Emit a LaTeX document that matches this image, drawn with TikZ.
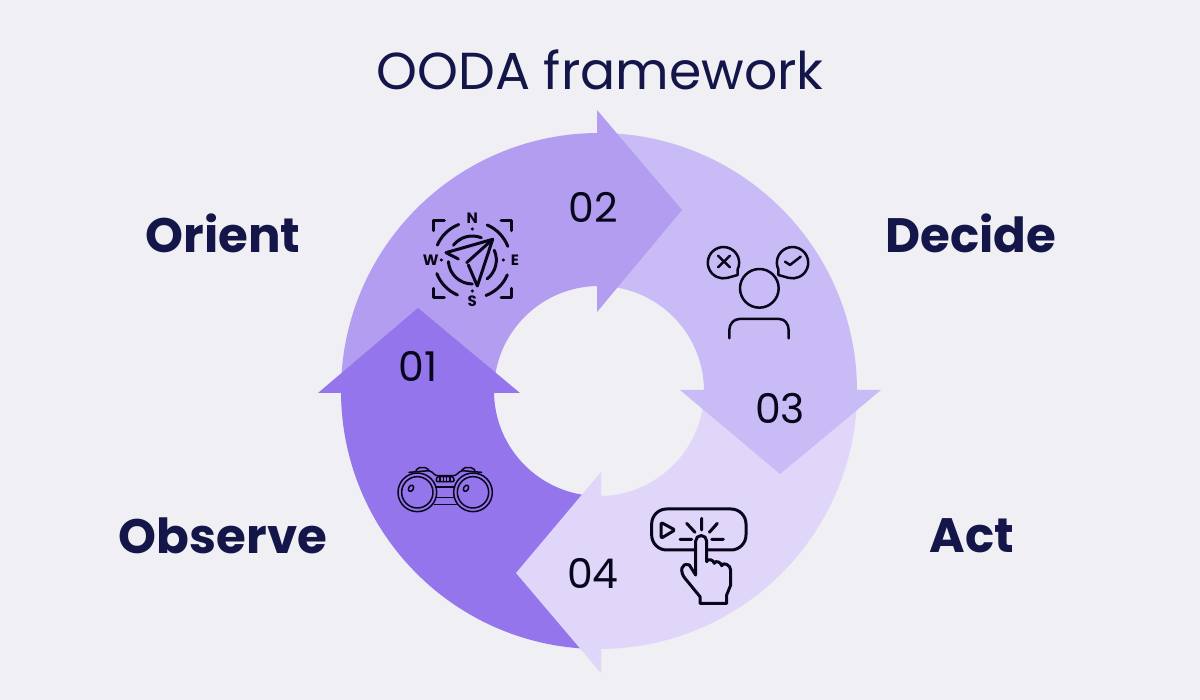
\documentclass[tikz,border=0pt]{standalone}
\usepackage{fontspec}
\setmainfont{Poppins}
\definecolor{bgc}{HTML}{EFEFF4}
\definecolor{navy}{HTML}{14164A}
\definecolor{cobs}{HTML}{9475EC}
\definecolor{cori}{HTML}{B39DF0}
\definecolor{cdec}{HTML}{C9BBF5}
\definecolor{cact}{HTML}{DFD6FA}
\definecolor{ink}{HTML}{08061A}
\newcommand\ringseg[3]{\fill[#1] ([shift={(599,391)}]#2:258) arc[start angle=#2,end angle=#3,radius=258] -- ([shift={(599,391)}]#3:105) arc[start angle=#3,end angle=#2,radius=105] -- cycle;}
\tikzset{
  titletext/.style={text=navy,inner sep=0pt,font=\fontsize{52}{60}\selectfont},
  labeltext/.style={text=navy,inner sep=0pt,font=\fontsize{48.3}{56}\selectfont\bfseries},
  numtext/.style={text=ink,inner sep=0pt,font=\fontsize{41}{48}\selectfont},
  compassletter/.style={text=ink,inner sep=0pt,font=\fontsize{15}{17}\selectfont\bfseries},
  iconheavy/.style={draw=ink,line width=3pt,line cap=round,line join=round},
  iconmid/.style={draw=ink,line width=2.5pt,line cap=round,line join=round},
  iconact/.style={draw=ink,line width=3pt,line cap=round,line join=round},
  iconthin/.style={draw=ink,line width=1.5pt,line cap=round,line join=round},
}
\begin{document}
\begin{tikzpicture}[x=1pt,y=1pt,yscale=-1]
\useasboundingbox (0,0) rectangle (1200,700);
\fill[bgc] (0,0) rectangle (1200,700);
% ring bodies
\ringseg{cori}{180}{270}
\ringseg{cdec}{270}{360}
\ringseg{cact}{0}{90}
\ringseg{cobs}{90}{180}
% heads
\fill[cori] (597,110) -- (682,210) -- (597,312) -- cycle;
\fill[cdec] (680,390) -- (881,390) -- (780,474) -- cycle;
\fill[cact] (601,472) -- (601,673) -- (516,573) -- cycle;
\fill[cobs] (318,393) -- (418,308) -- (520,393) -- cycle;
% text
\node[titletext] (title) at (600,70) {OODA framework};
\node[labeltext] (orient) at (223,233) {Orient};
\node[labeltext] (decide) at (971,233) {Decide};
\node[labeltext] (observe) at (223,536) {Observe};
\node[labeltext] (act) at (972,536) {Act};
\node[numtext] (n1) at (418,366) {01};
\node[numtext] (n2) at (593,207) {02};
\node[numtext] (n3) at (780,408) {03};
\node[numtext] (n4) at (593,573) {04};
% compass icon (coordinates of a 3x crop at 400,190)
\begin{scope}[shift={(400,190)},x=1pt/3,y=1pt/3]
  \begin{scope}[shift={(217,210)}]
    \foreach \a in {0,90,180,270}{
      \draw[iconheavy,rotate=\a] (23:114) arc[start angle=23,end angle=69,radius=114];
      \fill[ink,rotate=\a] (93,0) circle[radius=5];
    }
    \draw[iconheavy] (218:72) arc[start angle=218,end angle=292,radius=72];
    \draw[iconheavy] (-24:72) arc[start angle=-24,end angle=52,radius=72];
    \draw[iconheavy] (90:72) arc[start angle=90,end angle=176,radius=72];
  \end{scope}
  \draw[iconheavy] (100,122) -- (100,92) -- (133,92);
  \draw[iconheavy] (303,92) -- (335,92) -- (335,122);
  \draw[iconheavy] (100,295) -- (100,324) -- (133,324);
  \draw[iconheavy] (303,324) -- (335,324) -- (335,295);
  \draw[iconheavy] (175,207) -- (138,188) -- (278,148) -- (232,288) -- (205,225);
  \draw[iconheavy] (278,148) -- (200,218);
  \node[compassletter] (cn) at (217,85) {N};
  \node[compassletter] (cw) at (92,212) {W};
  \node[compassletter] (ce) at (345,210) {E};
  \node[compassletter] (cs) at (217,335) {S};
\end{scope}
% decide icon
\begin{scope}[shift={(690,230)},x=1pt/3,y=1pt/3]
  \draw[iconmid] (208,175) circle[radius=58];
  \draw[iconmid] (118,325) -- (118,300) to[out=-90,in=180] (148,267) -- (268,267) to[out=0,in=-90] (296,300) -- (296,325);
  \draw[iconmid] (143,118) arc[start angle=25,end angle=-285,radius=47] -- (143,135) -- cycle;
  \draw[iconmid] (84,77) -- (120,112) (120,77) -- (84,112);
  \draw[iconmid] (265,118) arc[start angle=155,end angle=465,radius=47] -- (265,135) -- cycle;
  \draw[iconmid] (285,95) -- (300,105) -- (332,80);
\end{scope}
% act icon
\begin{scope}[shift={(630,495)},x=1pt/3,y=1pt/3]
  \draw[iconact,rounded corners=45pt/3] (195,165) -- (65,165) -- (65,42) -- (348,42) -- (348,165) -- (232,165);
  \draw[iconact,rounded corners=6pt/3] (93,82) -- (135,105) -- (93,130) -- cycle;
  \draw[iconact] (150,133) -- (185,133) (170,85) -- (195,112) (215,70) -- (215,105) (262,85) -- (238,112) (245,133) -- (280,133);
  \draw[iconact] (197,240) -- (197,138) arc[start angle=180,end angle=360,radius=16.5] -- (230,200)
    to[out=-80,in=-100,looseness=1.2] (253,205) to[out=-80,in=-100,looseness=1.2] (275,212)
    to[out=-70,in=-90,looseness=1.2] (302,225) -- (302,270) -- (290,300) -- (290,325) -- (210,325) -- (210,305) -- (165,250)
    to[out=230,in=200,looseness=1.6] (178,210) -- (197,240);
\end{scope}
% binoculars icon
\begin{scope}[shift={(385,455)},x=1pt/3,y=1pt/3]
  \foreach \c in {97,264}{
    \draw[iconthin] (\c,112) circle[radius=58];
    \draw[iconthin] (\c,112) circle[radius=47];
  }
  \draw[iconthin,rotate around={30:(78,100)}] (78,100) ellipse[x radius=7,y radius=10];
  \draw[iconthin,rotate around={30:(243,100)}] (243,100) ellipse[x radius=7,y radius=10];
  \draw[iconthin,rounded corners=6pt/3] (93,48) -- (97,38) -- (127,38) -- (132,48);
  \draw[iconthin,rounded corners=6pt/3] (230,48) -- (235,38) -- (265,38) -- (270,48);
  \draw[iconthin] (72,52) -- (132,47) to[out=10,in=170] (160,62) -- (203,62) to[out=10,in=170] (232,47) -- (290,52);
  \draw[iconthin,rounded corners=4pt/3] (153,80) -- (156,65) -- (205,65) -- (208,80) -- cycle;
  \draw[iconthin] (165,65) -- (165,80) (175,65) -- (175,80) (185,65) -- (185,80) (195,65) -- (195,80);
  \draw[iconthin] (152,96) -- (209,96) (155,128) -- (206,128) (148,148) -- (214,148);
\end{scope}
\end{tikzpicture}
\end{document}
